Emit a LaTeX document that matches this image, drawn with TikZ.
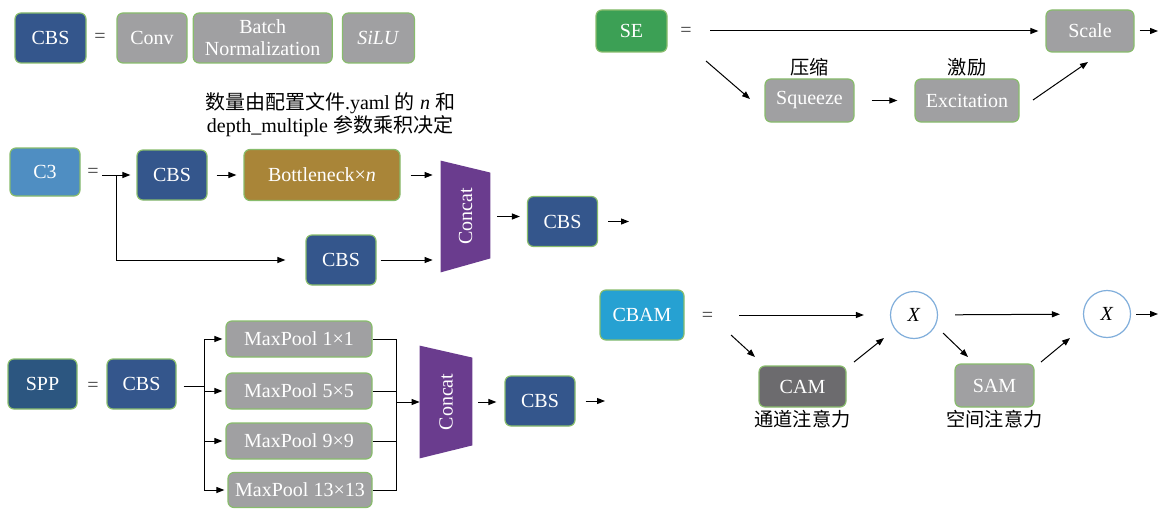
\documentclass[tikz,border=0pt]{standalone}
\usepackage{fontspec}
\setmainfont{Liberation Serif}
\newfontfamily\cjk{Noto Sans CJK SC}
\usetikzlibrary{positioning, arrows.meta, calc}

\definecolor{azulcbs}{HTML}{34568C}
\definecolor{grisbloque}{HTML}{A0A0A2}
\definecolor{bordeverde}{HTML}{88BC6C}
\definecolor{oro}{HTML}{A98538}
\definecolor{morado}{HTML}{6A3C8E}
\definecolor{azulc3}{HTML}{4F8EC2}
\definecolor{azulspp}{HTML}{2C5680}
\definecolor{verdese}{HTML}{3CA055}
\definecolor{cianbam}{HTML}{26A1D2}
\definecolor{griscam}{HTML}{6C6B6E}
\definecolor{bordeazul}{HTML}{80AEDB}

\begin{document}
\begin{tikzpicture}[
		% 1 unidad = 1 pixel de la imagen
		x=0.5pt, y=-0.5pt,
		node distance=1pt and 2.5pt,
		% Estilos de bloques
		bloque/.style={draw=bordeverde, line width=0.6pt, rectangle, rounded corners=3pt, inner sep=0pt, align=center, text=white, font=\fontsize{10}{11}\selectfont},
		cbs/.style={bloque, fill=azulcbs, minimum width=35pt, minimum height=25pt},
		caja_gris/.style={bloque, fill=grisbloque},
		circulo/.style={draw=bordeazul, line width=0.6pt, circle, fill=white, minimum size=23.5pt, inner sep=0pt, font=\fontsize{10}{11}\selectfont},
		concat_box/.style={rectangle, inner sep=0pt},
		% Estilo de flechas y etiquetas
		flecha/.style={-{Triangle[length=4pt, width=3pt]}, line width=0.5pt, draw=black},
		linea/.style={line width=0.5pt, draw=black},
		igual/.style={text=black!75, font=\fontsize{10}{11}\selectfont},
		etiqueta/.style={inner sep=1pt, font=\cjk\fontsize{9.6}{10}\selectfont},
		nota/.style={align=center, inner sep=0pt, font=\fontsize{10}{10.5}\selectfont}
		]
		
		\fill[white] (0,0) rectangle (1160,508);
		
		% --- DEFINICION DE CBS ---
		\node[cbs, minimum width=35.5pt] (cbs_def) at (50.5,38) {CBS};
		\node[igual] (eq_cbs) at (100,38) {=};
		\node[caja_gris, minimum width=35pt, minimum height=25pt] (conv) at (152,38) {Conv};
		\node[caja_gris, minimum width=69.5pt, minimum height=25pt, right=2.5pt of conv] (bn) {Batch\\Normalization};
		\node[caja_gris, minimum width=36pt, minimum height=25pt, right=4.5pt of bn] (silu) {\textit{SiLU}};
		
		% --- MODULO C3 ---
		\node[bloque, fill=azulc3, minimum width=35pt, minimum height=24pt] (c3) at (45,172) {C3};
		\node[igual] (eq_c3) at (93,173) {=};
		\coordinate (c3_in) at (102,175);
		\coordinate (c3_split) at (116,175);
		\node[cbs] (cbs_c3a) at (172,175) {CBS};
		\node[bloque, fill=oro, minimum width=78pt, minimum height=25.5pt] (bneck) at (322,175) {Bottleneck×\textit{n}};
		\node[nota] (nota_bneck) at (330,115) {{\cjk 数量由配置文件}.yaml {\cjk 的} \textit{n} {\cjk 和}\\depth\_multiple {\cjk 参数乘积决定}};
		\node[cbs] (cbs_c3b) at (341,260) {CBS};
		
		% Concat (trapecio)
		\node[concat_box, minimum width=24.5pt, minimum height=55.5pt] (concat_c3) at (465.5,216.5) {};
		\fill[morado] (concat_c3.north west) -- ($(concat_c3.north east)+(0,12)$) -- ($(concat_c3.south east)+(0,-14)$) -- (concat_c3.south west) -- cycle;
		\node[rotate=90, text=white, font=\fontsize{10}{11}\selectfont] at (concat_c3) {Concat};
		
		\node[cbs] (cbs_c3c) at (562.5,221.5) {CBS};
		\coordinate (c3_fin) at (629,221.5);
		
		\draw[flecha, shorten >=3pt] (c3_in) -- (cbs_c3a.west);
		\draw[flecha, shorten >=10pt] (c3_split) |- (cbs_c3b.west);
		\draw[flecha, shorten <=4.5pt, shorten >=3.5pt] (cbs_c3a) -- (bneck);
		\draw[flecha, shorten <=5pt, shorten >=4pt] (bneck.east) -- (bneck.east -| concat_c3.west);
		\draw[flecha, shorten <=2pt, shorten >=4pt] (cbs_c3b.east) -- (cbs_c3b.east -| concat_c3.west);
		\draw[flecha, shorten <=3.5pt, shorten >=3.5pt] (concat_c3.east) -- (concat_c3.east -| cbs_c3c.west);
		\draw[flecha, shorten <=5pt] (cbs_c3c.east) -- (c3_fin);
		
		% --- MODULO SPP ---
		\node[bloque, fill=azulspp, minimum width=34.5pt, minimum height=25pt] (spp) at (42.5,384) {SPP};
		\node[igual] (eq_spp) at (93,387) {=};
		\node[cbs, minimum width=34.5pt] (cbs_spp) at (141.5,384) {CBS};
		\coordinate (spp_tronco) at (204,386);
		\node[caja_gris, minimum width=73pt, minimum height=18pt] (mp_1) at (299,339) {MaxPool 1×1};
		\node[caja_gris, minimum width=73pt, minimum height=18pt] (mp_5) at (299,391) {MaxPool 5×5};
		\node[caja_gris, minimum width=73pt, minimum height=18pt] (mp_9) at (299,441) {MaxPool 9×9};
		\node[caja_gris, minimum width=72pt, minimum height=17.5pt] (mp_13) at (300,490) {MaxPool 13×13};
		\coordinate (spp_union) at (396,402);
		
		\node[concat_box, minimum width=26pt, minimum height=56pt] (concat_spp) at (446,402) {};
		\fill[morado] (concat_spp.north west) -- ($(concat_spp.north east)+(0,12)$) -- ($(concat_spp.south east)+(0,-13)$) -- (concat_spp.south west) -- cycle;
		\node[rotate=90, text=white, font=\fontsize{10}{11}\selectfont] at (concat_spp) {Concat};
		
		\node[cbs] (cbs_spp2) at (540,401) {CBS};
		\coordinate (spp_fin) at (605,401);
		
		\draw[linea, shorten <=3.5pt] (cbs_spp.east |- spp_tronco) -- (spp_tronco);
		\draw[flecha, shorten >=1.5pt] (spp_tronco) |- (mp_1.west);
		\draw[flecha, shorten >=1.5pt] (spp_tronco) |- (mp_5.west);
		\draw[flecha, shorten >=1.5pt] (spp_tronco) |- (mp_9.west);
		\draw[flecha, shorten >=1.5pt] (spp_tronco) |- (mp_13.west);
		\draw[linea] (mp_1.east) -| (spp_union);
		\draw[linea] (mp_5.east) -| (spp_union);
		\draw[linea] (mp_9.east) -| (spp_union);
		\draw[linea] (mp_13.east) -| (spp_union);
		\draw[flecha] (spp_union) -- (concat_spp.west);
		\draw[flecha, shorten <=3pt, shorten >=4pt] (concat_spp.east) -- (concat_spp.east -| cbs_spp2.west);
		\draw[flecha, shorten <=5pt] (cbs_spp2.east) -- (spp_fin);
		
		% --- MODULO SE ---
		\node[bloque, fill=verdese, minimum width=35.5pt, minimum height=21pt] (se) at (631.5,31) {SE};
		\node[igual] (eq_se) at (686,32) {=};
		\coordinate (se_in) at (710,31);
		\node[caja_gris, minimum width=44pt, minimum height=21pt] (scale) at (1090,31) {Scale};
		\coordinate (se_fin) at (1158,31);
		\node[caja_gris, minimum width=44.5pt, minimum height=21.5pt] (squeeze) at (809.5,100.5) {Squeeze};
		\node[etiqueta, above=0pt of squeeze] (lbl_squeeze) {压缩};
		\node[caja_gris, minimum width=52pt, minimum height=21.5pt] (excit) at (967,100.5) {Excitation};
		\node[etiqueta, above=0pt of excit] (lbl_excit) {激励};
		\coordinate (se_a) at (706,61);
		\coordinate (se_b) at (750,99);
		\coordinate (se_c) at (1033,100);
		\coordinate (se_d) at (1088,62);
		
		\draw[flecha, shorten >=3.5pt] (se_in) -- (scale.west);
		\draw[flecha, shorten <=2.5pt] (scale.east) -- (se_fin);
		\draw[flecha] (se_a) -- (se_b);
		\draw[flecha, shorten <=8.5pt, shorten >=8.5pt] (squeeze) -- (excit);
		\draw[flecha] (se_c) -- (se_d);
		
		% --- MODULO CBAM ---
		\node[bloque, fill=cianbam, minimum width=42pt, minimum height=25pt] (cbam) at (642,315) {CBAM};
		\node[igual] (eq_cbam) at (707.5,317) {=};
		\coordinate (cbam_in) at (739,315);
		\node[circulo] (mult_1) at (914,315) {\textit{X}};
		\node[circulo] (mult_2) at (1107,314) {\textit{X}};
		\coordinate (cbam_fin) at (1158,314);
		\node[bloque, fill=griscam, minimum width=43.5pt, minimum height=20.5pt] (cam) at (802.5,386.5) {CAM};
		\node[etiqueta, below=0pt of cam] (lbl_cam) {通道注意力};
		\node[caja_gris, minimum width=39.5pt, minimum height=21.5pt] (sam) at (994.5,385.5) {SAM};
		\node[etiqueta, below=0pt of sam] (lbl_sam) {空间注意力};
		\coordinate (cbam_a) at (731,335);
		\coordinate (cbam_b) at (755,357);
		\coordinate (cbam_c) at (854,362);
		\coordinate (cbam_d) at (884,338);
		\coordinate (cbam_e) at (943,333);
		\coordinate (cbam_f) at (968,357);
		\coordinate (cbam_g) at (1041,362);
		\coordinate (cbam_h) at (1070,338);
		
		\draw[flecha, shorten >=13pt] (cbam_in) -- (mult_1);
		\draw[flecha, shorten <=8.5pt, shorten >=11.5pt] (mult_1) -- (mult_2);
		\draw[flecha, shorten <=2.5pt] (mult_2) -- (cbam_fin);
		\draw[flecha] (cbam_a) -- (cbam_b);
		\draw[flecha] (cbam_c) -- (cbam_d);
		\draw[flecha] (cbam_e) -- (cbam_f);
		\draw[flecha] (cbam_g) -- (cbam_h);
		
	\end{tikzpicture}
\end{document}
